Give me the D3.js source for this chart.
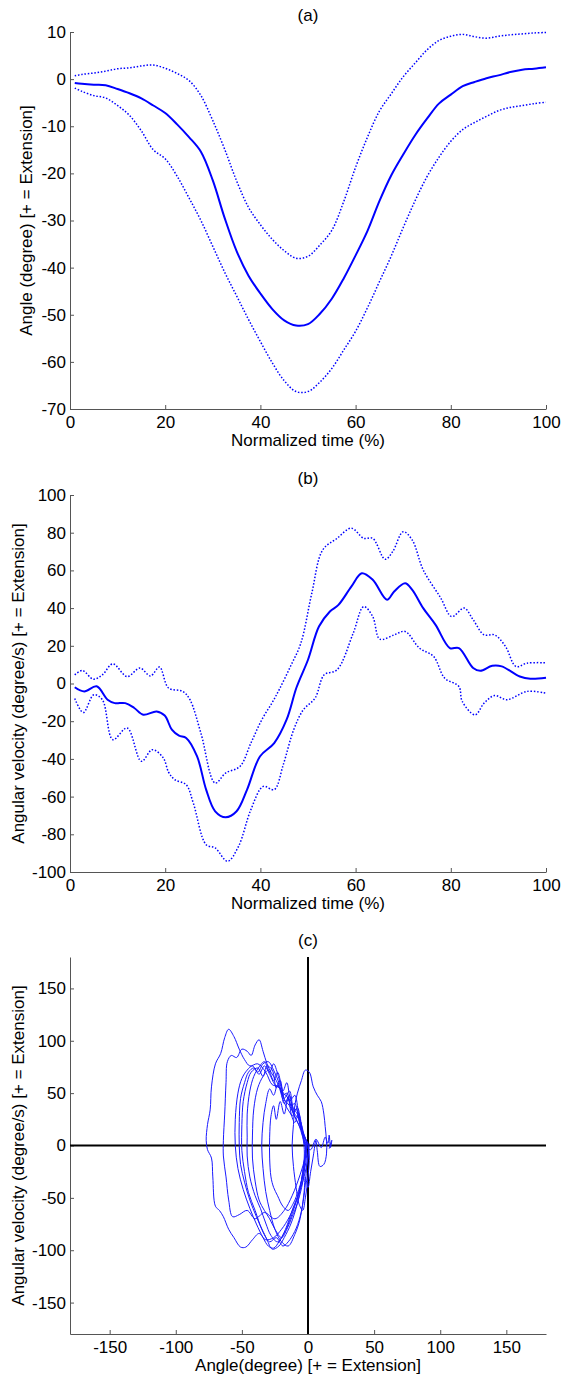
<!DOCTYPE html>
<html><head><meta charset="utf-8">
<script src="https://cdn.jsdelivr.net/npm/d3@7"></script>
<style>
body{margin:0;background:#fff}
svg{display:block}
text{font-family:"Liberation Sans",Arial,Helvetica,sans-serif;font-size:17px;fill:#000}
</style>
</head><body>
<svg id="chart" width="563" height="1379"></svg>
<script>
// ---------- DATA ----------
// Panel (a): knee angle over normalized time
const timeA = [1,2.5,5,7.5,10,12.5,15,17.5,20,22.5,25,27.5,30,32.5,35,37.5,40,42.5,45,47.5,50,52.5,55,57.5,60,62.5,65,67.5,70,72.5,75,77.5,80,82.5,85,87.5,90,92.5,95,97.5,100];
const angleMean  = [-0.8,-1.0,-1.2,-1.3,-2.1,-3.0,-4.1,-5.6,-7.2,-9.6,-12.3,-15.4,-21.5,-29.5,-36.5,-41.7,-45.5,-48.8,-51.2,-52.3,-52.0,-49.8,-46.6,-42.3,-37.4,-32.2,-25.9,-20.4,-16.0,-11.9,-8.4,-5.2,-3.3,-1.5,-0.6,0.2,0.8,1.5,2.0,2.2,2.5];
const angleUpper = [0.7,1.0,1.3,1.7,2.2,2.4,2.8,3.0,2.3,1.2,-0.3,-3.5,-8.8,-14.9,-21.6,-27.2,-30.9,-34.0,-36.4,-38.0,-37.6,-35.2,-32.1,-26.0,-18.7,-12.3,-6.8,-3.1,0.5,3.4,6.2,8.2,9.1,9.5,9.0,8.7,9.1,9.4,9.6,9.8,9.9];
const angleLower = [-1.9,-2.6,-3.5,-4.0,-5.6,-7.7,-11.0,-15.0,-16.9,-20.6,-25.2,-30.0,-35.5,-41.0,-46.0,-51.0,-55.7,-60.2,-64.0,-66.3,-66.3,-64.3,-61.4,-57.5,-53.5,-48.5,-43.0,-37.5,-31.5,-25.8,-20.7,-16.6,-13.2,-10.7,-9.2,-7.9,-6.7,-6.0,-5.6,-5.2,-4.9];

// Panel (b): angular velocity, [time %, degree/s]
const velMean = [[1,-2],[3,-4.2],[5.6,-1.5],[7.9,-8.6],[9.4,-10.4],[11.6,-10.4],[13.5,-13],[15.4,-16.6],[18.2,-14.8],[19.9,-17],[21.4,-24.5],[22.9,-27.7],[24.4,-28.9],[26.7,-38.7],[28.6,-56.3],[30.5,-67.8],[32.7,-71],[35,-67.8],[37.2,-56.3],[39.9,-38.7],[42.9,-31.6],[45.5,-19.2],[47.6,-2],[50,12.6],[52.3,30.2],[54.6,38.2],[56.4,41.7],[59.1,51.4],[61.3,58.5],[63.6,55],[66.6,44.4],[68.1,48.8],[70.4,53.2],[71.9,49.7],[74.2,40],[76.8,31.1],[79.8,18.8],[81.7,18.8],[84.7,8.2],[86.2,6.7],[88.7,9.4],[90.7,9.1],[94.5,3.7],[96.7,2.5],[100,3]];
const velUpper = [[1,4.6],[2.6,6.9],[4.9,2.3],[6.8,4.6],[9,10.4],[12,3.7],[14.7,8.2],[16.9,4],[18.8,8.7],[20.7,-2.4],[23.7,-4.2],[25.2,-8.6],[27.5,-26.3],[30.5,-52.8],[32.7,-47.5],[35.7,-44],[38,-31.6],[40.3,-19.2],[42.5,-10],[44,-3],[46.3,9],[48.5,21.4],[50.8,47.9],[53.1,70.9],[56.1,77],[59.1,82.4],[61.7,77],[63.6,77],[66.2,65.9],[67.8,70],[70,80.5],[71.9,76.1],[74.2,60.3],[77.9,45.3],[80.2,35.5],[82.8,40],[84.7,33.8],[87,25.8],[89.2,25.8],[91.5,19.6],[93.7,9],[96,10.8],[100,11]];
const velLower = [[1,-8],[2.8,-15.4],[5,-6],[6.8,-8.6],[9,-29.8],[12,-23.6],[15,-41.3],[17.3,-35.1],[19.6,-39.5],[20.7,-47],[22,-51],[24.4,-53.7],[25.9,-63.4],[28.6,-85.5],[30.5,-87.2],[33.1,-94.3],[35.4,-86.4],[38,-66.9],[40.6,-54.6],[42.9,-56.3],[44.8,-43.1],[47,-24.5],[49,-14],[51.5,-7.7],[53.4,4.6],[56.1,7.3],[59.5,26.7],[61.7,40.8],[63.6,35.5],[65.1,23.5],[68.1,25.8],[70.4,27.6],[73.4,18.8],[76.4,14.3],[78.7,2.9],[81.7,-1.6],[82.4,-9.5],[85.1,-16.6],[87,-10.4],[89.2,-6.4],[91.8,-8.6],[96,-4.2],[100,-5.1]];

// Panel (c): phase portrait, [angle degree, angular velocity degree/s]
const phase = [
 [1,2],[0,-12],[-3,-30],[-8,-50],[-14,-68],[-20,-80],[-26,-88],[-32,-90],[-37,-84],[-42,-90],[-47,-97],[-51,-97],[-56,-88],[-60,-80],[-64,-68],[-67,-62],[-70,-58],[-72,-30],[-73,-12],[-76,-4],[-77,5],[-76,20],[-74,34],[-73,56],[-70,78],[-66,88],[-63,103],[-60,111],[-56,104],[-52,92],[-48,82],[-44,76],[-38,78],[-32,70],[-27,58],[-22,56],[-18,44],[-14,38],[-9,25],[-4,12],[-1,3],
 [-2,-10],[-6,-28],[-12,-48],[-18,-62],[-25,-70],[-33,-64],[-40,-70],[-46,-62],[-52,-66],[-57,-68],[-60,-52],[-62,-30],[-64,-10],[-64,5],[-63,30],[-62,60],[-61,80],[-58,86],[-54,84],[-50,92],[-46,90],[-43,86],[-40,96],[-37,101],[-34,90],[-31,78],[-28,70],[-24,62],[-20,52],[-15,45],[-11,30],[-7,20],[-4,8],[-2,0],
 [-3,-20],[-7,-45],[-12,-62],[-17,-80],[-22,-92],[-26,-98],[-30,-96],[-34,-88],[-39,-75],[-44,-60],[-49,-42],[-53,-22],[-55,0],[-55,25],[-53,50],[-50,64],[-46,72],[-42,76],[-38,70],[-34,78],[-30,80],[-26,72],[-22,60],[-19,48],[-16,50],[-13,38],[-10,40],[-7,25],[-4,10],[-2,0],
 [-4,-25],[-8,-55],[-13,-75],[-18,-88],[-22,-96],[-27,-99],[-31,-90],[-35,-80],[-40,-62],[-45,-45],[-48,-25],[-50,-5],[-50,20],[-49,42],[-46,60],[-43,70],[-38,74],[-34,66],[-31,76],[-27,72],[-24,55],[-21,62],[-18,45],[-14,52],[-11,35],[-8,30],[-5,15],[-3,0],
 [-3,-15],[-6,-40],[-10,-58],[-14,-72],[-18,-84],[-23,-92],[-28,-86],[-32,-74],[-36,-60],[-40,-48],[-44,-30],[-46,-10],[-46,8],[-46,30],[-44,52],[-41,66],[-37,75],[-33,80],[-29,70],[-26,78],[-22,64],[-19,52],[-16,60],[-13,44],[-10,48],[-7,30],[-4,14],[-1,2],
 [-2,-12],[-4,-35],[-8,-55],[-12,-68],[-16,-80],[-20,-88],[-25,-80],[-29,-70],[-33,-62],[-37,-52],[-40,-34],[-42,-12],[-42,10],[-41,35],[-38,55],[-34,66],[-30,72],[-26,62],[-23,70],[-20,56],[-17,42],[-14,48],[-11,32],[-8,36],[-5,18],[-2,4],
 [-1,-8],[-3,-25],[-7,-42],[-11,-55],[-15,-62],[-19,-58],[-23,-48],[-26,-40],[-28,-30],[-29,-12],[-29,8],[-28,28],[-26,38],[-24,25],[-21,42],[-18,30],[-15,46],[-12,28],[-9,35],[-6,20],[-3,8],[0,2],
 [-1,-20],[-3,-48],[-6,-68],[-10,-82],[-15,-92],[-19,-96],[-24,-88],[-29,-92],[-34,-82],[-39,-68],[-44,-52],[-48,-35],[-51,-18],[-52,0],[-52,22],[-51,45],[-48,60],[-45,70],[-41,74],[-37,68],[-33,76],[-29,68],[-25,58],[-21,54],[-18,40],[-14,44],[-10,30],[-6,24],[-3,10],[0,0],
 [1,-10],[0,-30],[-2,-50],[-4,-62],[-7,-55],[-9,-40],[-11,-20],[-12,0],[-11,20],[-10,38],[-8,50],[-5,62],[-2,72],[1,70],[4,56],[7,48],[10,42],[12,30],[13,18],[14,4],[14,-8],[12,-18],[9,-20],[7,-5],[6,5],[4,-10],[2,-25],[0,-40],[-2,-30],
 [-3,-45],[-6,-70],[-10,-85],[-15,-96],[-20,-92],[-25,-80],[-29,-62],[-32,-44],[-34,-22],[-35,0],[-34,22],[-32,40],[-29,54],[-26,48],[-23,58],[-19,44],[-16,36],[-13,30],[-10,22],[-7,30],[-4,12],[-2,0],
 [2,-4],[6,6],[10,-2],[13,8],[15,2],[16,10],[17,-2],[18,5],[16,-3]
];

const ticksAngle = [-70,-60,-50,-40,-30,-20,-10,0,10];
const ticksTime = [0,20,40,60,80,100];
const ticksVel = [-100,-80,-60,-40,-20,0,20,40,60,80,100];
const ticksPhase = [-150,-100,-50,0,50,100,150];

const titles = ["(a)","(b)","(c)"];
const xLabels = ["Normalized time (%)","Normalized time (%)","Angle(degree) [+ = Extension]"];
const yLabels = ["Angle (degree) [+ = Extension]","Angular velocity (degree/s) [+ = Extension]","Angular velocity (degree/s) [+ = Extension]"];

// ---------- LAYOUT ----------
const svg = d3.select("#chart");
const L = 70, R = 546;
const panels = [
  {top:32, bottom:409, xd:[0,100], yd:[-70,10], xt:ticksTime, yt:ticksAngle, ylx:26},
  {top:495, bottom:872, xd:[0,100], yd:[-100,100], xt:ticksTime, yt:ticksVel, ylx:18},
  {top:957, bottom:1334, xd:[-180,180], yd:[-180,180], xt:ticksPhase, yt:ticksPhase, ylx:18}
];
const BLUE = "#0000ff";
const axisColor = "#555";

panels.forEach((p, i) => {
  p.x = d3.scaleLinear().domain(p.xd).range([L, R]);
  p.y = d3.scaleLinear().domain(p.yd).range([p.bottom, p.top]);
  const g = svg.append("g");

  // title
  g.append("text").attr("x", (L + R) / 2).attr("y", p.top - 11)
    .attr("text-anchor", "middle").text(titles[i]);

  // x axis
  const xa = g.append("g").attr("transform", `translate(0,${p.bottom})`)
    .call(d3.axisBottom(p.x).tickValues(p.xt).tickSizeInner(-4).tickSizeOuter(0)
      .tickPadding(7).tickFormat(d => String(d)));
  // y axis
  const ya = g.append("g").attr("transform", `translate(${L},0)`)
    .call(d3.axisLeft(p.y).tickValues(p.yt).tickSizeInner(-4).tickSizeOuter(0)
      .tickPadding(4).tickFormat(d => String(d)));
  [xa, ya].forEach(a => {
    a.selectAll("path,line").attr("stroke", axisColor);
    a.selectAll("text").style("font-size", "17px").attr("fill", "#000")
      .style("font-family", '"Liberation Sans",Arial,sans-serif');
  });

  // axis labels
  g.append("text").attr("x", (L + R) / 2).attr("y", p.bottom + 37)
    .attr("text-anchor", "middle").text(xLabels[i]);
  g.append("text")
    .attr("transform", `translate(${p.ylx},${(p.top + p.bottom) / 2}) rotate(-90)`)
    .attr("text-anchor", "middle").attr("dy", "0.35em").text(yLabels[i]);
});

// ---------- PANEL (a) ----------
const pa = panels[0];
const lineA = d3.line().x((d, j) => pa.x(timeA[j])).y(d => pa.y(d)).curve(d3.curveCatmullRom.alpha(0.5));
svg.append("path").attr("d", lineA(angleUpper)).attr("fill", "none").attr("stroke", BLUE)
  .attr("stroke-width", 1.5).attr("stroke-dasharray", "1.5,1.8");
svg.append("path").attr("d", lineA(angleLower)).attr("fill", "none").attr("stroke", BLUE)
  .attr("stroke-width", 1.5).attr("stroke-dasharray", "1.5,1.8");
svg.append("path").attr("d", lineA(angleMean)).attr("fill", "none").attr("stroke", BLUE)
  .attr("stroke-width", 2);

// ---------- PANEL (b) ----------
const pb = panels[1];
const lineB = d3.line().x(d => pb.x(d[0])).y(d => pb.y(d[1])).curve(d3.curveCatmullRom.alpha(0.5));
svg.append("path").attr("d", lineB(velUpper)).attr("fill", "none").attr("stroke", BLUE)
  .attr("stroke-width", 1.5).attr("stroke-dasharray", "1.5,1.8");
svg.append("path").attr("d", lineB(velLower)).attr("fill", "none").attr("stroke", BLUE)
  .attr("stroke-width", 1.5).attr("stroke-dasharray", "1.5,1.8");
svg.append("path").attr("d", lineB(velMean)).attr("fill", "none").attr("stroke", BLUE)
  .attr("stroke-width", 2);

// ---------- PANEL (c) ----------
const pc = panels[2];
svg.append("line").attr("x1", L).attr("x2", R).attr("y1", pc.y(0)).attr("y2", pc.y(0))
  .attr("stroke", "#000").attr("stroke-width", 2);
svg.append("line").attr("x1", pc.x(0)).attr("x2", pc.x(0)).attr("y1", pc.top).attr("y2", pc.bottom)
  .attr("stroke", "#000").attr("stroke-width", 2);
const lineC = d3.line().x(d => pc.x(d[0])).y(d => pc.y(d[1])).curve(d3.curveCatmullRom.alpha(0.5));
svg.append("path").attr("d", lineC(phase)).attr("fill", "none").attr("stroke", "#1a1aff")
  .attr("stroke-width", 1);
</script>
</body></html>
